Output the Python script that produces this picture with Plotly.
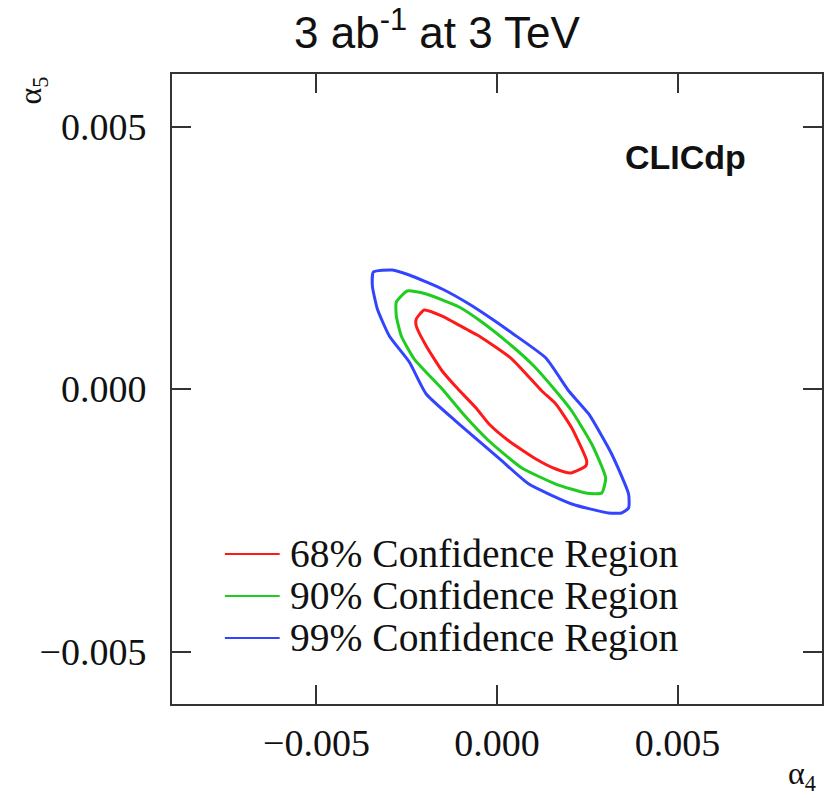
import plotly.graph_objects as go

# Contour polygons (alpha4, alpha5) in units of 1e-3
blue_x = [-3.423, -2.899, -2.429, -1.518, -0.773, -0.138, 0.414, 1.353, 1.988, 2.540, 3.175, 3.644, 3.644, 3.451, 3.092, 2.071, 0.883, 0.138, -1.049, -1.960, -2.429, -2.982, -3.313, -3.451]
blue_y = [2.229, 2.267, 2.171, 1.905, 1.619, 1.333, 1.067, 0.590, -0.038, -0.476, -1.238, -2.000, -2.267, -2.362, -2.362, -2.190, -1.810, -1.371, -0.667, -0.095, 0.514, 1.010, 1.524, 1.962]

green_x = [-2.788, -2.485, -1.960, -1.049, -0.497, 0.414, 1.021, 1.629, 2.071, 2.623, 3.009, 2.899, 2.457, 1.629, 0.690, -0.221, -0.911, -1.518, -2.291, -2.650, -2.788]
green_y = [1.657, 1.867, 1.810, 1.562, 1.314, 0.819, 0.438, -0.038, -0.419, -1.048, -1.695, -1.981, -1.981, -1.810, -1.505, -0.990, -0.495, 0.000, 0.571, 1.010, 1.390]

red_x = [-2.236, -2.015, -1.518, -0.856, -0.497, 0.414, 1.242, 1.629, 2.071, 2.485, 2.457, 2.043, 1.629, 1.077, 0.331, -0.221, -0.580, -1.132, -1.518, -1.960, -2.236]
red_y = [1.333, 1.505, 1.390, 1.143, 1.010, 0.571, -0.038, -0.286, -0.743, -1.371, -1.467, -1.600, -1.524, -1.333, -0.990, -0.667, -0.362, 0.038, 0.343, 0.819, 1.200]

labels = ["68% Confidence Region", "90% Confidence Region", "99% Confidence Region"]
colors = ["#ff1a1a", "#1fcc1f", "#3344ff"]
tick_vals = [-0.005, 0.0, 0.005]

series = [(red_x, red_y), (green_x, green_y), (blue_x, blue_y)]

fig = go.Figure()
for (xs, ys), lab, col in zip(series, labels, colors):
    xx = [v * 1e-3 for v in xs] + [xs[0] * 1e-3]
    yy = [v * 1e-3 for v in ys] + [ys[0] * 1e-3]
    fig.add_trace(go.Scatter(x=xx, y=yy, mode="lines", name=lab,
                             line=dict(color=col, width=3, shape="spline", smoothing=0.5),
                             showlegend=False))

serif = "Liberation Serif"
sans = "Liberation Sans"

axis_common = dict(
    showgrid=False, zeroline=False, showline=True, linecolor="#333333", linewidth=2,
    mirror="allticks", ticks="inside", ticklen=19, tickwidth=2, tickcolor="#333333",
    tickvals=tick_vals, tickformat=".3f",
    tickfont=dict(family=serif, size=38, color="#111111"),
)
fig.update_xaxes(range=[-0.009, 0.009], ticklabelstandoff=4, **axis_common)
fig.update_yaxes(range=[-0.006, 0.006], ticklabelstandoff=16, **axis_common)

# Manual legend (ROOT style)
leg_y = [554, 596, 638]
annotations = []
shapes = []
for lab, col, py in zip(labels, colors, leg_y):
    yp = 1 - (py - 74) / 630
    shapes.append(dict(type="line", xref="paper", yref="paper",
                       x0=(225 - 172) / 652, x1=(280 - 172) / 652, y0=yp, y1=yp,
                       line=dict(color=col, width=2)))
    annotations.append(dict(text=lab, xref="paper", yref="paper", x=(288 - 172) / 652, y=yp,
                            xanchor="left", yanchor="middle", showarrow=False,
                            font=dict(family=serif, size=39.5, color="#111111")))

annotations.append(dict(text="<b>CLICdp</b>", xref="paper", yref="paper",
                        x=(750 - 172) / 652, y=1 - (157 - 74) / 630,
                        xanchor="right", yanchor="middle", showarrow=False,
                        font=dict(family=sans, size=34, color="#111111")))
annotations.append(dict(text="α<sub>4</sub>", xref="paper", yref="paper",
                        x=(804 - 172) / 652, y=-(775 - 704) / 630,
                        xanchor="center", yanchor="middle", showarrow=False,
                        font=dict(family=serif, size=32, color="#111111")))
annotations.append(dict(text="α<sub>5</sub>", xref="paper", yref="paper",
                        x=(32 - 172) / 652, y=1 - (90 - 74) / 630, textangle=-90,
                        xanchor="center", yanchor="middle", showarrow=False,
                        font=dict(family=serif, size=32, color="#111111")))

fig.update_layout(
    width=829, height=798,
    margin=dict(l=172, r=5, t=74, b=94),
    paper_bgcolor="white", plot_bgcolor="white",
    title=dict(text="3 ab<sup>-1</sup> at 3 TeV", x=437 / 829, y=1 - 33 / 798,
               xanchor="center", yanchor="middle",
               font=dict(family=sans, size=44, color="#111111")),
    annotations=annotations, shapes=shapes,
)

fig.write_html("out.html")
